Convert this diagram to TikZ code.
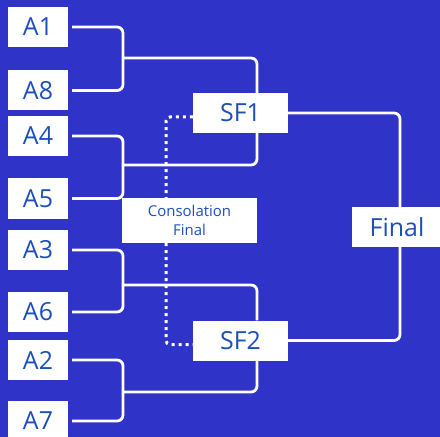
\documentclass[tikz,border=0pt]{standalone}
\usepackage{fontspec}
\setmainfont{Open Sans}
\usepackage{tikz}
\usetikzlibrary{positioning}
\definecolor{bracketbg}{RGB}{47,51,200}
\definecolor{teamtext}{RGB}{28,78,188}
\tikzset{
  team/.style={
    rectangle,
    fill=white,
    text=teamtext,
    minimum width=60bp,
    minimum height=40bp,
    inner sep=0pt,
    font=\fontsize{25}{28}\selectfont
    },
  match/.style={team, minimum width=95bp},
  consol/.style={
    rectangle,
    fill=white,
    text=teamtext,
    minimum width=135bp,
    minimum height=45bp,
    inner sep=0pt,
    align=center,
    font=\fontsize{15}{19}\selectfont
    },
  link/.style={draw=white, line width=2.8bp, rounded corners=6bp},
  dotlink/.style={draw=white, line width=3bp, dash pattern=on 3bp off 4bp, rounded corners=4bp},
}

\begin{document}
\begin{tikzpicture}[x=1bp, y=-1bp]
\fill[bracketbg] (0,0) rectangle (440,437);
\useasboundingbox (0,0) rectangle (440,437);

% first round
\node (A1) [team] at (38,27) {A1};
\node (A8) [team] at (38,90.5) {A8};
\node (A4) [team] at (38,136) {A4};
\node (A5) [team] at (38,198.5) {A5};
\node (A3) [team] at (38,250) {A3};
\node (A6) [team] at (38,312) {A6};
\node (A2) [team] at (38,360) {A2};
\node (A7) [team] at (38,421) {A7};

% semis and finals
\node (SF1) [match] at (240.5,113) {SF1};
\node (SF2) [match] at (240.5,340.5) {SF2};
\node (cons) [consol] at (189.5,220.5) {Consolation\\Final};
\node (fin) [team, minimum width=90bp] at (397,227) {Final};

\coordinate (j1) at (123,58);
\coordinate (j2) at (123,165);
\coordinate (j3) at (123,285);
\coordinate (j4) at (123,392);

\draw [link] ([xshift=4bp]A1.east) -| (j1) |- ([xshift=4bp]A8.east);
\draw [link] ([xshift=4bp]A4.east) -| (j2) |- ([xshift=4bp]A5.east);
\draw [link] ([xshift=4bp]A3.east) -| (j3) |- ([xshift=4bp]A6.east);
\draw [link] ([xshift=4bp]A2.east) -| (j4) |- ([xshift=4bp]A7.east);

\draw [link] (j1) -| ([xshift=16.5bp]SF1.north);
\draw [link] (j2) -| ([xshift=16.5bp]SF1.south);
\draw [link] (j3) -| ([xshift=16.5bp]SF2.north);
\draw [link] (j4) -| ([xshift=16.5bp]SF2.south);

\draw [link] (SF1.east) -| ([xshift=3bp]fin.north);
\draw [link] (SF2.east) -| ([xshift=3bp]fin.south);

\draw [dotlink] ([yshift=-4bp]SF1.west) -| ([xshift=-23.5bp]cons.north);
\draw [dotlink] ([xshift=-23.5bp]cons.south) |- ([yshift=-4bp]SF2.west);

\end{tikzpicture}
\end{document}
